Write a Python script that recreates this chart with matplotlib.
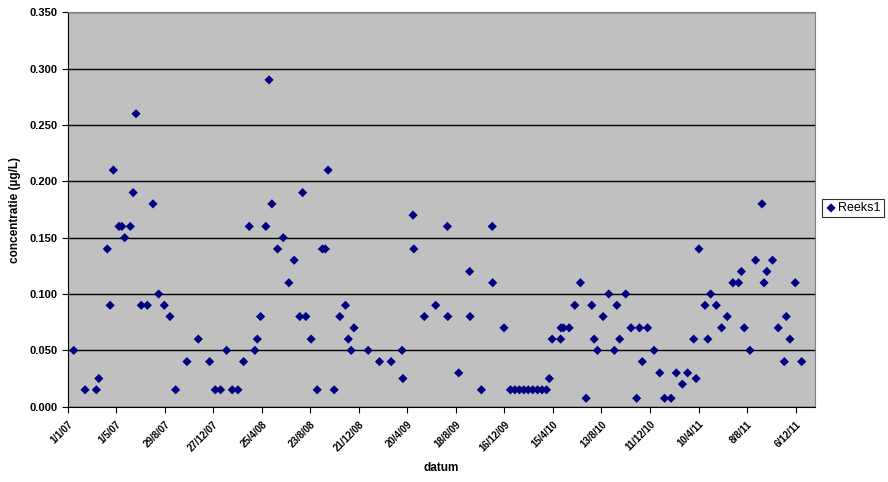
import matplotlib
matplotlib.use("Agg")
from matplotlib import pyplot as plt
import numpy as np
import pandas as pd

plt.rcParams['font.family'] = ['Liberation Sans', 'DejaVu Sans']

# dagen sinds 1/1/07 en gemeten concentratie
dagen = [15, 43, 71, 77, 98, 105, 113, 127, 134, 141, 155, 162, 169, 182, 197, 211,
         225, 239, 253, 267, 295, 323, 351, 365, 378, 393, 407, 421, 435, 449, 463,
         469, 477, 490, 498, 505, 519, 533, 547, 560, 574, 581, 589, 602, 617, 630,
         637, 644, 659, 673, 687, 694, 701, 708, 743, 771, 800, 827, 829, 854, 856,
         882, 910, 939, 940, 967, 994, 995, 1023, 1050, 1051, 1079,
         1095, 1106, 1117, 1128, 1139, 1150, 1162, 1173, 1184, 1191, 1198, 1219,
         1220, 1226, 1240, 1254, 1268, 1282, 1296, 1302, 1310, 1324, 1338, 1352,
         1358, 1365, 1380, 1393, 1407, 1414, 1421, 1434, 1450, 1464, 1476, 1492,
         1505, 1520, 1533, 1548, 1554, 1561, 1576, 1583, 1590, 1604, 1617, 1631,
         1645, 1659, 1666, 1673, 1687, 1701, 1717, 1722, 1729, 1743, 1757, 1772,
         1777, 1786, 1799, 1815]
conc = [0.050, 0.015, 0.015, 0.025, 0.140, 0.090, 0.210, 0.160, 0.160, 0.150, 0.160,
        0.190, 0.260, 0.090, 0.090, 0.180, 0.100, 0.090, 0.080, 0.015, 0.040, 0.060,
        0.040, 0.015, 0.015, 0.050, 0.015, 0.015, 0.040, 0.160, 0.050, 0.060, 0.080,
        0.160, 0.290, 0.180, 0.140, 0.150, 0.110, 0.130, 0.080, 0.190, 0.080, 0.060,
        0.015, 0.140, 0.140, 0.210, 0.015, 0.080, 0.090, 0.060, 0.050, 0.070, 0.050,
        0.040, 0.040, 0.050, 0.025, 0.170, 0.140, 0.080, 0.090, 0.160, 0.080, 0.030,
        0.120, 0.080, 0.015, 0.160, 0.110, 0.070,
        0.015, 0.015, 0.015, 0.015, 0.015, 0.015, 0.015, 0.015, 0.015, 0.025, 0.060,
        0.060, 0.070, 0.070, 0.070, 0.090, 0.110, 0.0075, 0.090, 0.060, 0.050, 0.080,
        0.100, 0.050, 0.090, 0.060, 0.100, 0.070, 0.0075, 0.070, 0.040, 0.070, 0.050,
        0.030, 0.0075, 0.0075, 0.030, 0.020, 0.030, 0.060, 0.025, 0.140, 0.090, 0.060,
        0.100, 0.090, 0.070, 0.080, 0.110, 0.110, 0.120, 0.070, 0.050, 0.130, 0.180,
        0.110, 0.120, 0.130, 0.070, 0.040, 0.080, 0.060, 0.110, 0.040]

start = pd.Timestamp('2007-01-01')
datum = start + pd.to_timedelta(dagen, unit='D')
tick_datums = start + pd.to_timedelta(np.arange(0, 1801, 120), unit='D')
tick_labels = [f"{d.day}/{d.month}/{d.year % 100:02d}" for d in tick_datums]

fig = plt.figure(figsize=(8.88, 4.82), dpi=100)
ax = fig.add_axes([0.0762, 0.1562, 0.8416, 0.8183])
ax.set_facecolor('#C0C0C0')

ax.scatter(datum, conc, marker='D', s=22, color='#000080', edgecolors='none',
           label='Reeks1', zorder=3)

ax.set_ylim(0, 0.35)
ax.set_yticks(np.arange(0, 0.351, 0.05))
ax.set_yticklabels([f"{v:.3f}" for v in np.arange(0, 0.351, 0.05)],
                   fontsize=8, fontweight='bold')
ax.set_xlim(start, start + pd.Timedelta(days=1848))
ax.set_xticks(tick_datums)
ax.set_xticklabels(tick_labels, rotation=45, ha='right', rotation_mode='anchor',
                   fontsize=7, fontweight='bold')

ax.yaxis.grid(True, color='black', lw=1)
ax.set_axisbelow(True)
for s in ['top', 'right']:
    ax.spines[s].set_color('#808080')
for s in ['left', 'bottom']:
    ax.spines[s].set_color('black')
ax.tick_params(axis='both', direction='out', length=4, width=0.8, colors='black')
ax.tick_params(axis='x', pad=5)

ax.set_ylabel('concentratie (µg/L)', fontsize=8.5, fontweight='bold', labelpad=6)
ax.set_xlabel('datum', fontsize=8.5, fontweight='bold', labelpad=6)

leg = fig.legend(loc='center left', bbox_to_anchor=(0.926, 0.568), fontsize=9,
                 frameon=True, fancybox=False, handletextpad=0.1, borderpad=0.25,
                 handlelength=0.9, borderaxespad=0)
leg.get_frame().set_edgecolor('black')
leg.get_frame().set_linewidth(0.8)

fig.savefig('out.png', dpi=100)
